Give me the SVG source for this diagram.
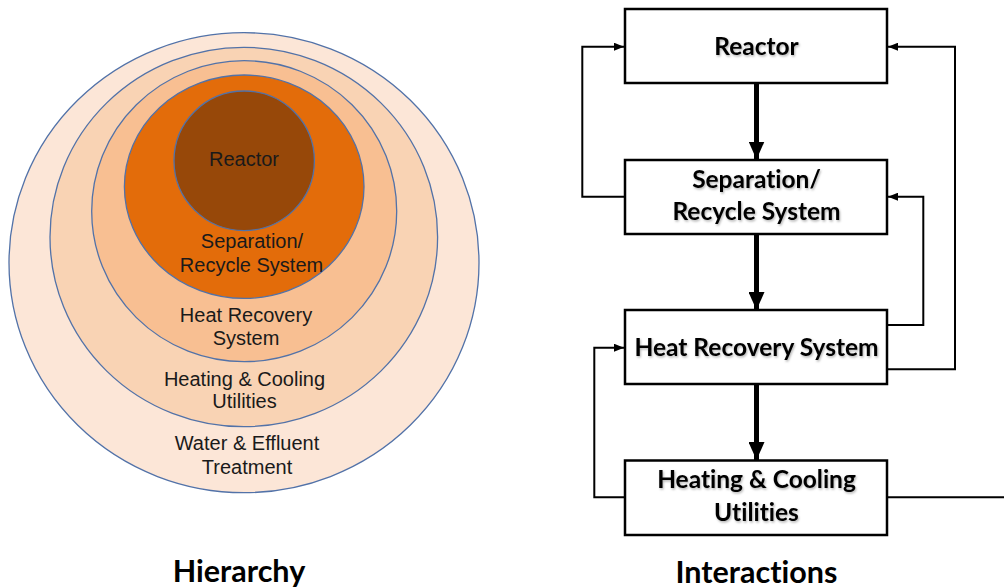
<svg xmlns="http://www.w3.org/2000/svg" width="1004" height="588" viewBox="0 0 1004 588">
<style>
.ring{stroke:#5272a8;stroke-width:1.3}
.rl{font-family:"Liberation Sans",Arial,sans-serif;font-size:20px;fill:#1a1a1a;text-anchor:middle}
.box{fill:#fff;stroke:#000;stroke-width:2.5}
.bl{font-family:Lato,"Liberation Sans",sans-serif;font-weight:bold;font-size:24.5px;fill:#000;text-anchor:middle;font-variant-ligatures:none}
.cap{font-family:Lato,"Liberation Sans",sans-serif;font-weight:bold;font-size:30.5px;fill:#000;text-anchor:middle;font-variant-ligatures:none}
.thin{fill:none;stroke:#000;stroke-width:2}
.thick{fill:none;stroke:#000;stroke-width:5}
</style>
<defs>
<marker id="ah" viewBox="0 0 10 8" refX="10" refY="4" markerWidth="10" markerHeight="8" markerUnits="userSpaceOnUse" orient="auto"><path d="M0,0 L10,4 L0,8 Z" fill="#000"/></marker>
<marker id="ahb" viewBox="0 0 18 16" refX="18" refY="8" markerWidth="18" markerHeight="16" markerUnits="userSpaceOnUse" orient="auto"><path d="M0,0 L18,8 L0,16 Z" fill="#000"/></marker>
<filter id="ts" x="-10%" y="-30%" width="130%" height="170%"><feDropShadow dx="1" dy="1.5" stdDeviation="1" flood-color="#000" flood-opacity="0.3"/></filter>
</defs>
<rect width="1004" height="588" fill="#fff"/>
<g id="hierarchy">
<g id="water"><ellipse class="ring" cx="244" cy="262.7" rx="235" ry="230" fill="#fce6d7"/></g>
<g id="utilities-ring"><ellipse class="ring" cx="243.8" cy="237" rx="193.8" ry="189.7" fill="#f9d3b4"/></g>
<g id="heatrec-ring"><ellipse class="ring" cx="244.2" cy="211.2" rx="152.5" ry="150.5" fill="#f8bf92"/></g>
<g id="separation-ring"><ellipse class="ring" cx="244.2" cy="186.7" rx="119.8" ry="111.7" fill="#e36c0a"/></g>
<g id="reactor-ring"><ellipse class="ring" cx="244.2" cy="160.8" rx="70.2" ry="69.8" fill="#974809"/></g>
<text class="rl" x="244" y="165.5">Reactor</text>
<text class="rl" x="252" y="247.7">Separation/</text>
<text class="rl" x="251.5" y="272.3">Recycle System</text>
<text class="rl" x="246" y="321.7">Heat Recovery</text>
<text class="rl" x="246" y="345">System</text>
<text class="rl" x="244.5" y="385.7">Heating &amp; Cooling</text>
<text class="rl" x="244.5" y="408.3">Utilities</text>
<text class="rl" x="247" y="450">Water &amp; Effluent</text>
<text class="rl" x="247" y="474">Treatment</text>
</g>
<g id="connectors">
<line class="thick" x1="756.5" y1="83" x2="756.5" y2="159.5" marker-end="url(#ahb)"/>
<line class="thick" x1="756.5" y1="234" x2="756.5" y2="310" marker-end="url(#ahb)"/>
<line class="thick" x1="756.5" y1="384" x2="756.5" y2="460" marker-end="url(#ahb)"/>
<polyline class="thin" points="625,196.7 582.3,196.7 582.3,46.7 624,46.7" marker-end="url(#ah)"/>
<polyline class="thin" points="887,369.3 955,369.3 955,46.7 888,46.7" marker-end="url(#ah)"/>
<polyline class="thin" points="887,325 923.3,325 923.3,196.7 888,196.7" marker-end="url(#ah)"/>
<polyline class="thin" points="625,497.3 594.3,497.3 594.3,347.7 624,347.7" marker-end="url(#ah)"/>
<line class="thin" x1="887" y1="497.3" x2="1004" y2="497.3"/>
</g>
<g id="reactor"><rect class="box" x="625" y="9" width="262" height="74"/><text class="bl" x="756.5" y="55" filter="url(#ts)">Reactor</text></g>
<g id="separation"><rect class="box" x="625" y="160" width="262" height="74"/><text class="bl" x="756.5" y="188.3" filter="url(#ts)">Separation/</text><text class="bl" x="756.5" y="220" filter="url(#ts)">Recycle System</text></g>
<g id="heat-recovery"><rect class="box" x="625" y="310" width="262" height="74"/><text class="bl" x="756.5" y="356" filter="url(#ts)">Heat Recovery System</text></g>
<g id="heating-cooling"><rect class="box" x="625" y="460.5" width="262" height="74.5"/><text class="bl" x="756.5" y="488.3" filter="url(#ts)">Heating &amp; Cooling</text><text class="bl" x="756.5" y="520.7" filter="url(#ts)">Utilities</text></g>
<text class="cap" x="239" y="582">Hierarchy</text>
<text class="cap" x="756.5" y="583">Interactions</text>
</svg>
